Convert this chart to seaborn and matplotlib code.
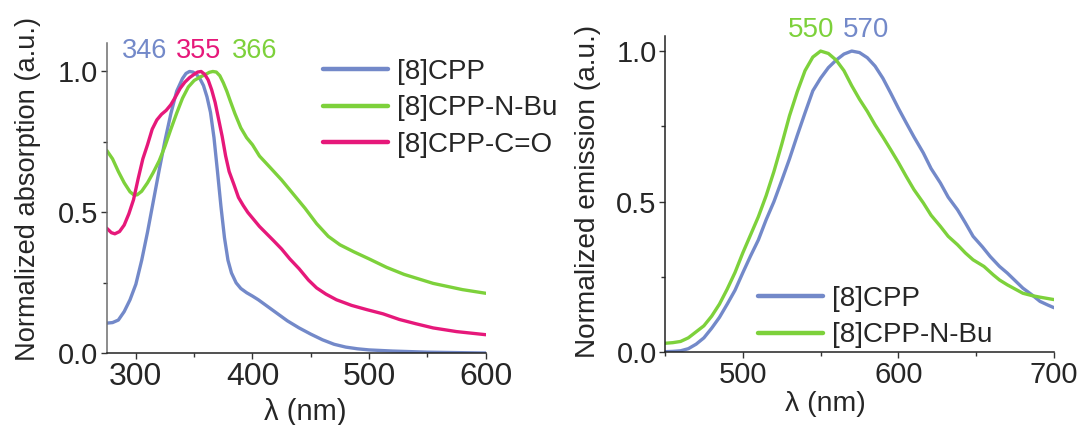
import numpy as np
import pandas as pd
import matplotlib
matplotlib.use("Agg")
import matplotlib.pyplot as plt
import seaborn as sns
from matplotlib.ticker import MultipleLocator, FormatStrFormatter

sns.set_style("ticks")
plt.rcParams['font.family'] = ['Liberation Sans', 'DejaVu Sans']

# ---------- data: absorption ----------
abs_cpp_x = [275, 280, 285, 290, 295, 300, 305, 310, 315, 320, 325, 330, 335, 340, 343, 346, 349, 352,
             355, 358, 361, 364, 367, 370, 373, 376, 379, 382, 386, 390, 395, 400, 405, 410, 415, 420,
             425, 430, 440, 450, 460, 470, 480, 490, 500, 520, 550, 600]
abs_cpp_y = [0.107, 0.109, 0.118, 0.148, 0.19, 0.245, 0.33, 0.43, 0.54, 0.65, 0.755, 0.85, 0.93, 0.975,
             0.993, 1.0, 0.998, 0.99, 0.974, 0.95, 0.91, 0.855, 0.765, 0.645, 0.52, 0.41, 0.33, 0.285,
             0.25, 0.23, 0.215, 0.203, 0.19, 0.175, 0.16, 0.145, 0.13, 0.115, 0.09, 0.068, 0.048,
             0.032, 0.022, 0.016, 0.012, 0.008, 0.004, 0.001]

abs_nbu_x = [275, 280, 285, 290, 295, 298, 301, 305, 310, 315, 320, 325, 330, 335, 340, 345, 350, 355,
             360, 363, 366, 369, 372, 375, 378, 381, 385, 390, 395, 400, 406, 415, 425, 435, 445, 455,
             465, 475, 487, 500, 515, 530, 555, 580, 600]
abs_nbu_y = [0.72, 0.69, 0.645, 0.605, 0.573, 0.563, 0.562, 0.575, 0.605, 0.642, 0.683, 0.735, 0.795,
             0.852, 0.905, 0.945, 0.968, 0.98, 0.99, 0.997, 1.0, 0.998, 0.985, 0.96, 0.93, 0.895, 0.85,
             0.8, 0.765, 0.74, 0.70, 0.66, 0.615, 0.565, 0.515, 0.46, 0.415, 0.385, 0.36, 0.335, 0.305,
             0.28, 0.248, 0.226, 0.213]

abs_co_x = [275, 279, 282, 286, 290, 294, 298, 302, 306, 310, 314, 318, 322, 326, 330, 334, 338, 342,
            346, 350, 353, 356, 359, 362, 365, 368, 371, 374, 377, 380, 384, 388, 392, 396, 400, 406,
            412, 418, 425, 432, 440, 448, 455, 463, 472, 485, 498, 512, 526, 540, 555, 575, 600]
abs_co_y = [0.444, 0.428, 0.424, 0.432, 0.455, 0.495, 0.545, 0.62, 0.69, 0.74, 0.795, 0.828, 0.848,
            0.862, 0.882, 0.91, 0.94, 0.962, 0.978, 0.99, 0.998, 1.0, 0.99, 0.97, 0.935, 0.89, 0.83,
            0.77, 0.70, 0.645, 0.60, 0.553, 0.525, 0.50, 0.48, 0.45, 0.425, 0.40, 0.37, 0.335, 0.30,
            0.26, 0.232, 0.21, 0.19, 0.17, 0.155, 0.14, 0.12, 0.105, 0.09, 0.077, 0.066]

# ---------- data: emission ----------
em_cpp_x = [450, 455, 460, 465, 470, 475, 480, 485, 490, 495, 500, 505, 510, 515, 520, 525, 530, 535,
            540, 545, 550, 555, 560, 565, 570, 575, 580, 585, 590, 595, 600, 605, 610, 616, 621, 627,
            632, 638, 643, 648, 654, 659, 665, 670, 675, 680, 686, 691, 696, 700]
em_cpp_y = [0.002, 0.003, 0.005, 0.012, 0.027, 0.048, 0.08, 0.116, 0.16, 0.206, 0.264, 0.32, 0.373,
            0.44, 0.50, 0.57, 0.642, 0.72, 0.795, 0.868, 0.91, 0.945, 0.97, 0.99, 1.0, 0.995, 0.978,
            0.95, 0.91, 0.861, 0.81, 0.762, 0.715, 0.662, 0.61, 0.562, 0.515, 0.473, 0.43, 0.385,
            0.35, 0.318, 0.285, 0.263, 0.238, 0.213, 0.19, 0.169, 0.157, 0.148]

em_nbu_x = [450, 455, 460, 465, 470, 475, 480, 485, 490, 495, 500, 505, 510, 515, 520, 525, 530, 535,
            540, 545, 550, 555, 560, 565, 570, 575, 580, 585, 590, 595, 600, 605, 610, 616, 621, 627,
            632, 638, 643, 648, 655, 661, 665, 670, 675, 680, 686, 691, 700]
em_nbu_y = [0.03, 0.032, 0.036, 0.048, 0.068, 0.088, 0.12, 0.16, 0.21, 0.265, 0.33, 0.39, 0.45, 0.52,
            0.60, 0.69, 0.785, 0.865, 0.935, 0.98, 1.0, 0.992, 0.97, 0.935, 0.885, 0.84, 0.80, 0.755,
            0.715, 0.673, 0.63, 0.584, 0.54, 0.496, 0.455, 0.418, 0.385, 0.357, 0.33, 0.307, 0.285,
            0.257, 0.24, 0.224, 0.21, 0.196, 0.188, 0.183, 0.175]

labels_abs = ["[8]CPP", "[8]CPP-N-Bu", "[8]CPP-C=O"]
labels_em = ["[8]CPP", "[8]CPP-N-Bu"]
abs_peaks = ["346", "355", "366"]
em_peaks = ["550", "570"]

BLUE = "#7389C9"
GREEN = "#7DD13B"
PINK = "#E6187A"

fig = plt.figure(figsize=(10.8, 4.25), dpi=100)
W, H = 1080, 425
def ax_rect(x0, y0, x1, y1):
    return [x0 / W, 1 - y1 / H, (x1 - x0) / W, (y1 - y0) / H]

ax1 = fig.add_axes(ax_rect(106.7, 43.3, 485.7, 353.3))
ax2 = fig.add_axes(ax_rect(665, 36, 1054, 352.3))

lw = 2.4
for xs, ys, c, lab in [(abs_cpp_x, abs_cpp_y, BLUE, labels_abs[0]),
                       (abs_nbu_x, abs_nbu_y, GREEN, labels_abs[1]),
                       (abs_co_x, abs_co_y, PINK, labels_abs[2])]:
    sns.lineplot(x=xs, y=ys, ax=ax1, color=c, lw=lw, label=lab, estimator=None, sort=False)

for xs, ys, c, lab in [(em_cpp_x, em_cpp_y, BLUE, labels_em[0]),
                       (em_nbu_x, em_nbu_y, GREEN, labels_em[1])]:
    sns.lineplot(x=xs, y=ys, ax=ax2, color=c, lw=lw, label=lab, estimator=None, sort=False)

for ln in ax1.get_lines() + ax2.get_lines():
    ln.set_solid_joinstyle('round')
    ln.set_solid_capstyle('round')

ax1.set_xlim(275, 600)
ax1.set_ylim(0, 1.1)
ax2.set_xlim(450, 700)
ax2.set_ylim(0, 1.05)

for ax in (ax1, ax2):
    sns.despine(ax=ax)
    ax.yaxis.set_major_locator(MultipleLocator(0.5))
    ax.yaxis.set_minor_locator(MultipleLocator(0.25))
    ax.xaxis.set_major_locator(MultipleLocator(100))
    ax.xaxis.set_minor_locator(MultipleLocator(50))
    ax.yaxis.set_major_formatter(FormatStrFormatter('%.1f'))
    ax.tick_params(which='major', direction='out', length=4, width=1, color='#333333', pad=2)
    ax.tick_params(which='minor', direction='out', length=3, width=1, color='#333333')
    for s in ax.spines.values():
        s.set_linewidth(1.1)
        s.set_color('#222222')

ax1.spines['left'].set_color('#6e6e6e')
ax1.tick_params(axis='x', labelsize=23)
ax1.tick_params(axis='y', labelsize=21)
ax2.tick_params(axis='both', labelsize=21)

ax1.set_xlabel("λ (nm)", fontsize=21)
ax1.xaxis.set_label_coords(0.523, -0.19)
ax1.xaxis.label.set_va('center')
ax1.set_ylabel("Normalized absorption (a.u.)", fontsize=19.6)
ax1.yaxis.set_label_coords(-0.208, 0.53)
ax1.yaxis.label.set_va('center')

ax2.set_xlabel("λ (nm)", fontsize=20.5)
ax2.xaxis.set_label_coords(0.411, -0.165)
ax2.xaxis.label.set_va('center')
ax2.set_ylabel("Normalized emission (a.u.)", fontsize=20.2)
ax2.yaxis.set_label_coords(-0.199, 0.51)
ax2.yaxis.label.set_va('center')

# peak labels
for txt, xp, c in zip(abs_peaks, [307.4, 354.1, 401.6], [BLUE, PINK, GREEN]):
    ax1.text(xp, 1.074, txt, color=c, fontsize=19.5, ha='center', va='center', clip_on=False)
for txt, xp, c in zip(em_peaks, [544.2, 579.5], [GREEN, BLUE]):
    ax2.text(xp, 1.069, txt, color=c, fontsize=20, ha='center', va='center', clip_on=False)

leg_kw = dict(frameon=False, fontsize=20, handlelength=2.35, handletextpad=0.32,
              labelspacing=0.38, borderpad=0, borderaxespad=0, loc='upper left')
l1 = ax1.legend(bbox_to_anchor=(0.571, 0.95), **leg_kw)
l2 = ax2.legend(bbox_to_anchor=(0.239, 0.21), **leg_kw)
for leg in (l1, l2):
    for h in leg.get_lines():
        h.set_linewidth(3.2)

fig.savefig("out.png", dpi=100)
